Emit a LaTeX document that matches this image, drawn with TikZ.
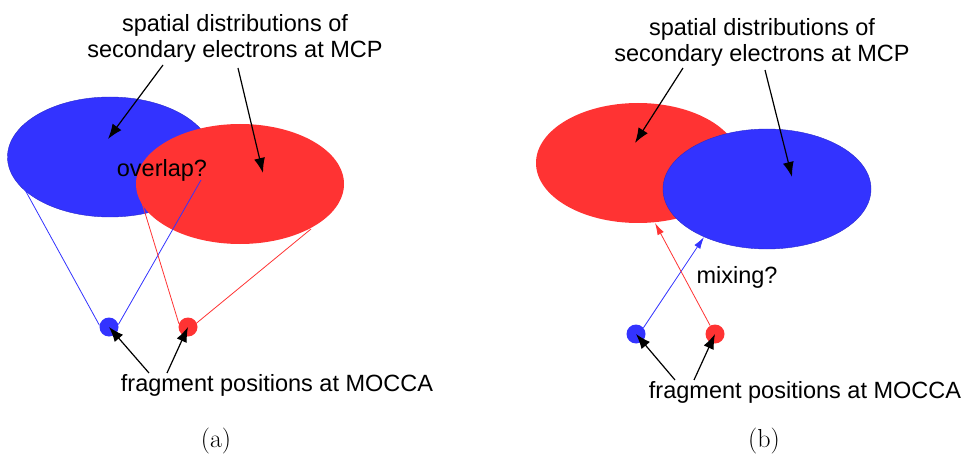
\documentclass[tikz,border=0pt]{standalone}
\usepackage{fontspec}
\setsansfont{Liberation Sans}
\usetikzlibrary{arrows.meta,shapes.geometric}
\definecolor{cblue}{HTML}{3333FF}
\definecolor{cred}{HTML}{FF3333}
\tikzset{
  cloud/.style={ellipse,inner sep=0pt,minimum width=#1},
  bluecloud/.style={cloud=205pt,minimum height=120pt,fill=cblue,draw=cblue!80!black,line width=0.4pt},
  redcloud/.style={cloud=208pt,minimum height=120pt,fill=cred},
  dot/.style={circle,inner sep=0pt,minimum size=19pt},
  label/.style={font=\sffamily\fontsize{23.5}{26}\selectfont,align=center,inner sep=0pt},
  caption/.style={font=\fontsize{26}{30}\selectfont,inner sep=0pt},
  pointer/.style={line width=1.2pt,-{Latex[length=15pt,width=11pt]}},
  ray/.style={line width=0.8pt},
  flow/.style={line width=0.8pt,-{Latex[length=12pt,width=7pt]}}
}
\begin{document}
\begin{tikzpicture}[x=1pt,y=-1pt]
\useasboundingbox (0,0) rectangle (965,454);

% ---------- panel (a): overlap ----------
\node[bluecloud] (ba) at (110,157) {};
\node[redcloud] (ra) at (240,184) {};
\node[dot,fill=cblue] (bda) at (109,327) {};
\node[dot,fill=cred] (rda) at (188,327) {};
\coordinate (ba1) at (24,188);
\coordinate (ba2) at (201,180);
\coordinate (ra1) at (142,203);
\coordinate (ra2) at (311,229);
\draw[ray,cblue] (bda.170) -- (ba1);
\draw[ray,cblue] (bda.15) -- (ba2);
\draw[ray,cred] (rda.160) -- (ra1);
\draw[ray,cred] (rda.25) -- (ra2);
\node[label] (ovl) at (162,170) {overlap?};

\node[label] (topa) at (235,38) {spatial distributions of\\secondary electrons at MCP};
\coordinate (ta1) at (163,65);
\coordinate (ta2) at (238,68);
\draw[pointer] (ta1) -- (108,139);
\draw[pointer] (ta2) -- (263,173);

\node[label] (bota) at (277,385) {fragment positions at MOCCA};
\coordinate (fa1) at (149,373);
\coordinate (fa2) at (167,373);
\draw[pointer] (fa1) -- (bda.center);
\draw[pointer] (fa2) -- (rda.center);

\node[caption] (capa) at (216,441) {(a)};

% ---------- panel (b): mixing ----------
\node[redcloud,minimum width=204pt] (rb) at (638,163) {};
\node[bluecloud,minimum width=208pt] (bb) at (767,189) {};
\node[dot,fill=cblue] (bdb) at (636,334) {};
\node[dot,fill=cred] (rdb) at (715,334) {};
\coordinate (bb1) at (704,237);
\coordinate (rb1) at (655,223);
\draw[flow,cblue] (bdb.40) -- (bb1);
\draw[flow,cred] (rdb.120) -- (rb1);
\node[label] (mix) at (737,277) {mixing?};

\node[label] (topb) at (762,42) {spatial distributions of\\secondary electrons at MCP};
\coordinate (tb1) at (683,68);
\coordinate (tb2) at (765,70);
\draw[pointer] (tb1) -- (635,143);
\draw[pointer] (tb2) -- (792,177);

\node[label] (botb) at (805,392) {fragment positions at MOCCA};
\coordinate (fb1) at (675,380);
\coordinate (fb2) at (694,380);
\draw[pointer] (fb1) -- (bdb.center);
\draw[pointer] (fb2) -- (rdb.center);

\node[caption] (capb) at (764,441) {(b)};
\end{tikzpicture}
\end{document}
